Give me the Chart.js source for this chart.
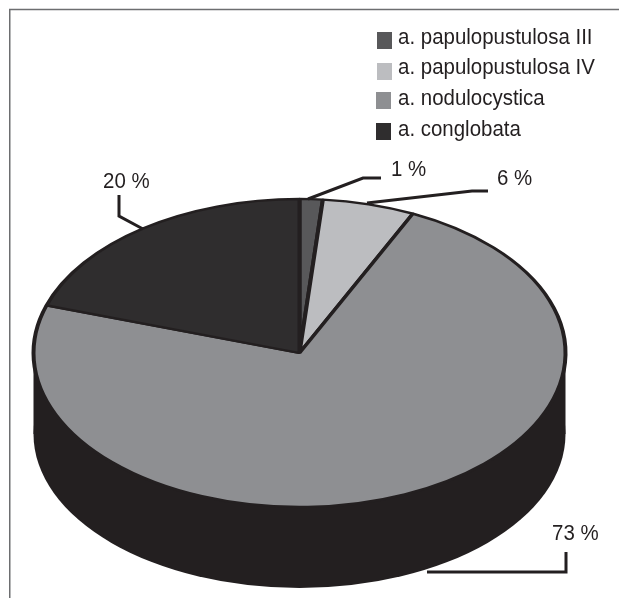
<!DOCTYPE html>
<html><head><meta charset="utf-8">
<style>html,body{margin:0;padding:0;background:#fff}#w{position:absolute;left:0;top:0;width:619px;height:598px}</style>
<script src="https://cdn.jsdelivr.net/npm/chart.js@4"></script></head>
<body><div id="w"><canvas id="c" width="619" height="598"></canvas></div>
<script>
const categories = ['a. papulopustulosa III','a. papulopustulosa IV','a. nodulocystica','a. conglobata'];
const shares = [1.4, 5.6, 73, 20];
const sliceColors = ['#58585a','#bcbdc0','#8e8f92','#2f2d2e'];
const ink = '#231f20';
const tilt = 154/266, depth = 81;
const font = '22px "Liberation Sans", Arial, sans-serif';

function label(ctx, t, x, y){
  ctx.save();
  ctx.translate(x, y); ctx.scale(0.93, 1);
  ctx.fillText(t, 0, 0);
  ctx.restore();
}

const pie3d = {
  id:'pie3d',
  beforeDatasetsDraw(chart){
    const ctx = chart.ctx, a = chart.getDatasetMeta(0).data[0];
    const {x, y, outerRadius:r} = a;
    ctx.save();
    ctx.fillStyle = ink;
    ctx.beginPath();
    ctx.ellipse(x, y+depth, r, r*tilt, 0, 0, Math.PI*2);
    ctx.fill();
    ctx.fillRect(x-r, y, 2*r, depth);
    ctx.restore();
    ctx.save();
    ctx.translate(x, y); ctx.scale(1, tilt); ctx.translate(-x, -y);
  },
  afterDatasetsDraw(chart){
    const ctx = chart.ctx;
    ctx.restore();
    ctx.save();
    ctx.strokeStyle = ink; ctx.lineWidth = 3; ctx.lineJoin = 'miter';
    const leaders = [
      [[308,199],[363,178],[381,178]],
      [[367,203],[472,191],[488,191]],
      [[427,572],[566,572],[566,552]],
      [[143,229],[119,216],[119,195]]
    ];
    leaders.forEach(p=>{ctx.beginPath();p.forEach((q,i)=>i?ctx.lineTo(q[0],q[1]):ctx.moveTo(q[0],q[1]));ctx.stroke();});
    ctx.fillStyle = ink; ctx.font = font; ctx.textBaseline='alphabetic'; ctx.textAlign='left';
    const at = [[391,176],[497,185],[552,540],[103,188]];
    shares.forEach((v,i)=>label(ctx, Math.round(v)+' %', at[i][0], at[i][1]));
    const rows = [[377,32,44],[377,63,74],[376,92,105],[376,123,136]];
    categories.forEach((t,i)=>{
      ctx.fillStyle = sliceColors[i];
      ctx.fillRect(rows[i][0], rows[i][1], 15, 17);
      ctx.fillStyle = ink;
      label(ctx, t, 398, rows[i][2]);
    });
    ctx.strokeStyle = '#6d6e70'; ctx.lineWidth = 1.5;
    ctx.beginPath(); ctx.moveTo(9.75,598); ctx.lineTo(9.75,9.5); ctx.lineTo(619,9.5); ctx.stroke();
    ctx.restore();
  }
};

new Chart(document.getElementById('c'), {
  type:'pie',
  data:{labels:categories, datasets:[{data:shares, backgroundColor:sliceColors, borderColor:ink, borderWidth:4, clip:false}]},
  options:{
    responsive:false, animation:false, radius:266,
    layout:{padding:{left:33,right:53,top:108,bottom:0}},
    plugins:{legend:{display:false},tooltip:{enabled:false}}
  },
  plugins:[pie3d]
});
</script></body></html>
